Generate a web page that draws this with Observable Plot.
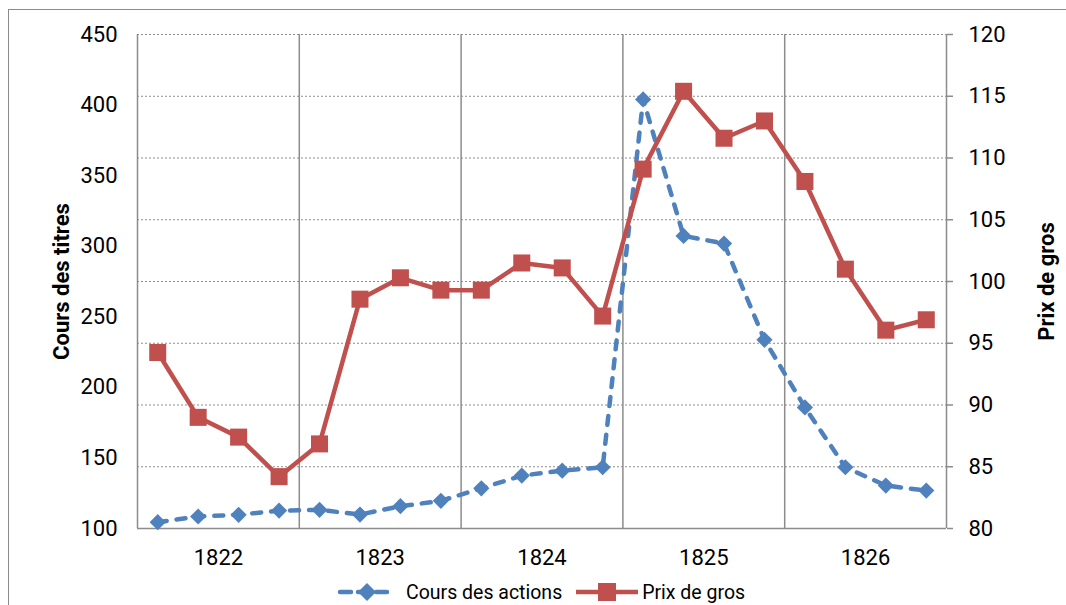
<!DOCTYPE html>
<html>
<head>
<meta charset="utf-8">
<script src="https://cdn.jsdelivr.net/npm/d3@7"></script>
<script src="https://cdn.jsdelivr.net/npm/@observablehq/plot@0.6"></script>
<style>
  html, body { margin: 0; padding: 0; background: #fff; overflow: hidden; }
  #wrap { position: relative; width: 1066px; height: 605px; overflow: hidden; font-family: Roboto, sans-serif; }
  #frame { position: absolute; left: 8px; top: 9px; width: 1100px; height: 700px; border: 1px solid #8c8c8c; box-sizing: border-box; }
  #chart { position: absolute; left: 0; top: 0; }
  #chart svg { font-family: Roboto, sans-serif; }
  #chart g[aria-label="y-axis label"] text { font-weight: bold; }
  #legend { position: absolute; left: 336px; top: 580px; display: flex; align-items: center; font-size: 19.5px; color: #000; white-space: nowrap; }
  #legend .item { display: flex; align-items: center; }
  #legend svg { display: block; }
</style>
</head>
<body>
<div id="wrap">
  <div id="frame"></div>
  <div id="chart"></div>
  <div id="legend"></div>
</div>
<script>
// ---- data ----
const years = ["1822", "1823", "1824", "1825", "1826"];
const quartersPerYear = 4;
const leftTicks = [100, 150, 200, 250, 300, 350, 400, 450];
const rightTicks = [80, 85, 90, 95, 100, 105, 110, 115, 120];
const seriesNames = ["Cours des actions", "Prix de gros"];
const coursActions = [104.5, 108.5, 109.7, 112.7, 113.2, 109.9, 115.8, 119.6, 128.5, 137.5, 141, 143.4,
                      404, 307.3, 301.9, 233.7, 185.8, 143.4, 130.4, 126.9];
const prixGros = [94.25, 89.0, 87.4, 84.2, 86.85, 98.57, 100.3, 99.3, 99.3, 101.5, 101.1, 97.2,
                  109.1, 115.4, 111.6, 113.0, 108.1, 101.0, 96.06, 96.9];

const blue = "#4F81BD";
const red = "#C0504D";
const gray = "#8c8c8c";

// secondary axis mapping (80..120 -> 100..450)
const L0 = 100, L1 = 450, R0 = 80, R1 = 120;
const toLeft = v => L0 + (v - R0) * (L1 - L0) / (R1 - R0);
const fromLeft = v => R0 + (v - L0) * (R1 - R0) / (L1 - L0);

const nQ = years.length * quartersPerYear;
const blueData = coursActions.map((v, i) => ({x: i + 0.5, y: v}));
const redData = prixGros.map((v, i) => ({x: i + 0.5, y: toLeft(v)}));
const yearCenters = years.map((d, i) => i * quartersPerYear + quartersPerYear / 2);
const yearBounds = years.slice(1).map((d, i) => (i + 1) * quartersPerYear);

const chart = Plot.plot({
  width: 1066,
  height: 605,
  marginLeft: 137,
  marginRight: 120,
  marginTop: 34,
  marginBottom: 77,
  style: {fontSize: "22px", fontFamily: "Roboto, sans-serif", color: "#000", background: "transparent"},
  x: {domain: [0, nQ]},
  y: {domain: [L0, L1]},
  marks: [
    Plot.gridY(rightTicks.map(toLeft), {stroke: gray, strokeOpacity: 1, strokeWidth: 1, strokeDasharray: "2,2"}),
    Plot.ruleX(yearBounds, {stroke: gray, strokeWidth: 1.5}),
    Plot.ruleX([0, nQ], {stroke: gray, strokeWidth: 1.5}),
    Plot.ruleY([L0], {stroke: gray, strokeWidth: 1.5}),
    Plot.axisY(leftTicks, {anchor: "left", tickSize: 0, tickPadding: 20, label: "Cours des titres", labelAnchor: "center", labelArrow: "none", labelOffset: 84, fontSize: 22}),
    Plot.axisY(rightTicks.map(toLeft), {anchor: "right", tickSize: 6, tickPadding: 16, stroke: gray, strokeWidth: 1.5,
      tickFormat: d => String(Math.round(fromLeft(d))), label: "Prix de gros", labelAnchor: "center", labelArrow: "none", labelOffset: 107, fontSize: 22}),
    Plot.axisX(yearCenters, {anchor: "bottom", tickSize: 0, tickPadding: 21, tickFormat: d => years[(d - 2) / quartersPerYear], label: null, fontSize: 22}),
    Plot.line(blueData, {x: "x", y: "y", stroke: blue, strokeWidth: 4.5, strokeDasharray: "9,10", strokeLinecap: "round"}),
    Plot.dot(blueData, {x: "x", y: "y", symbol: "diamond2", r: 7.3, fill: blue, stroke: "none"}),
    Plot.line(redData, {x: "x", y: "y", stroke: red, strokeWidth: 4.5}),
    Plot.dot(redData, {x: "x", y: "y", symbol: "square", r: 9.6, fill: red, stroke: "none"})
  ]
});
document.getElementById("chart").appendChild(chart);

// legend
const legend = document.getElementById("legend");
function swatch(kind) {
  const ns = "http://www.w3.org/2000/svg";
  const s = document.createElementNS(ns, "svg");
  s.setAttribute("width", "64"); s.setAttribute("height", "24");
  const line = document.createElementNS(ns, "line");
  line.setAttribute("x1", kind === "blue" ? 4 : 2); line.setAttribute("x2", kind === "blue" ? 58 : 64);
  line.setAttribute("y1", 12); line.setAttribute("y2", 12);
  line.setAttribute("stroke", kind === "blue" ? blue : red);
  line.setAttribute("stroke-width", 4.5);
  if (kind === "blue") { line.setAttribute("stroke-dasharray", "11,7"); line.setAttribute("stroke-linecap", "round"); }
  s.appendChild(line);
  if (kind === "blue") {
    const p = document.createElementNS(ns, "path");
    p.setAttribute("d", "M31,3 L40,12 L31,21 L22,12 Z");
    p.setAttribute("fill", blue);
    s.appendChild(p);
  } else {
    const r = document.createElementNS(ns, "rect");
    r.setAttribute("x", 24); r.setAttribute("y", 3); r.setAttribute("width", 18); r.setAttribute("height", 18);
    r.setAttribute("fill", red);
    s.appendChild(r);
  }
  return s;
}
seriesNames.forEach((name, i) => {
  const item = document.createElement("div");
  item.className = "item";
  item.style.marginRight = i === 0 ? "12px" : "0";
  item.appendChild(swatch(i === 0 ? "blue" : "red"));
  const t = document.createElement("span");
  t.textContent = name;
  t.style.marginLeft = i === 0 ? "6px" : "4px";
  item.appendChild(t);
  legend.appendChild(item);
});
</script>
</body>
</html>
